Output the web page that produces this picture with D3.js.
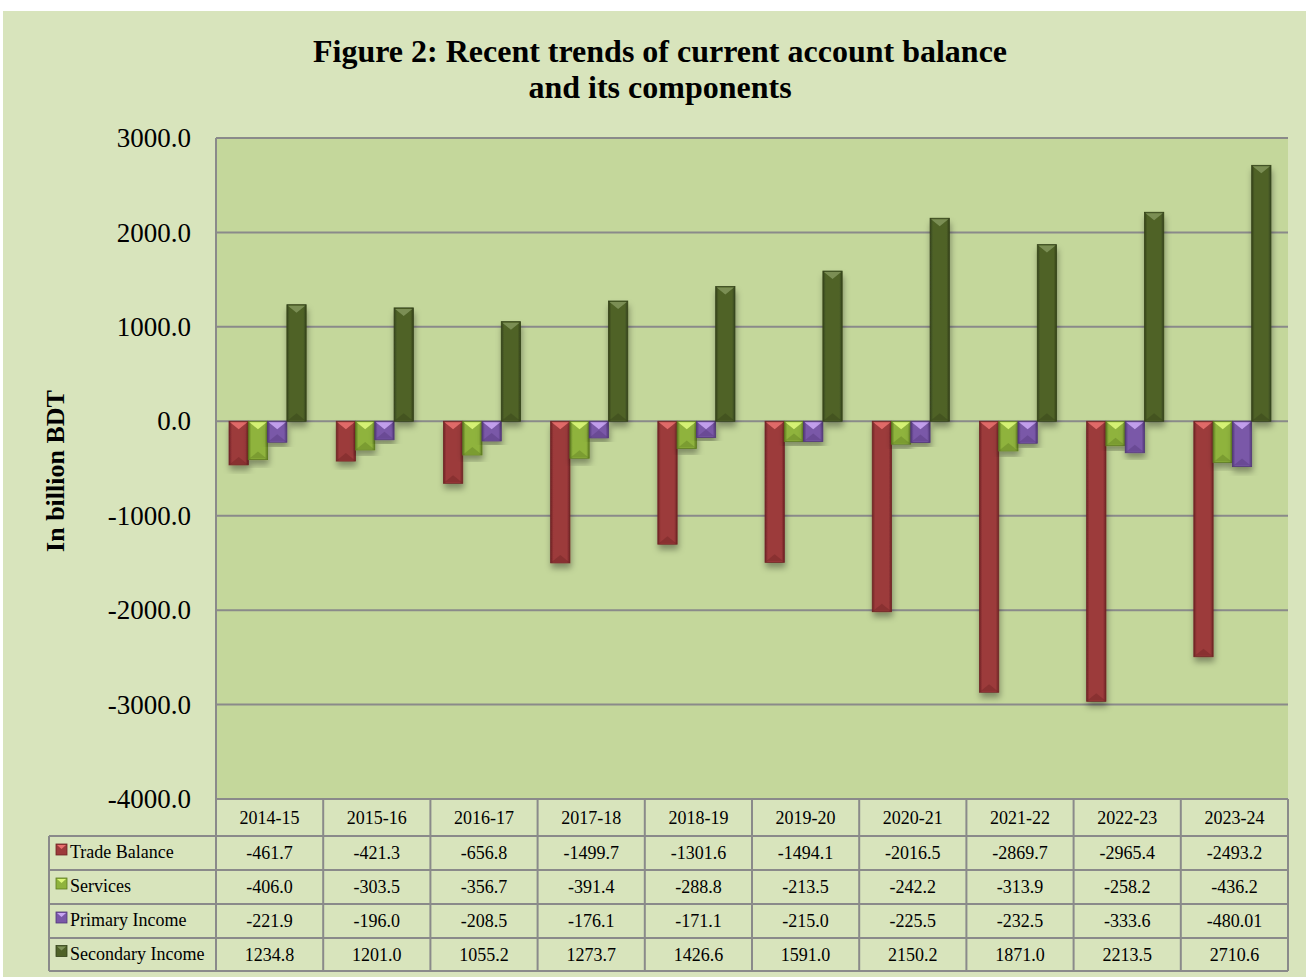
<!DOCTYPE html>
<html>
<head>
<meta charset="utf-8">
<script src="https://cdn.jsdelivr.net/npm/d3@7"></script>
<style>
  html, body { margin: 0; padding: 0; background: #ffffff; }
  svg { display: block; }
  text { font-family: "Liberation Serif", "Times New Roman", serif; }
</style>
</head>
<body>
<svg id="chart" width="1306" height="977"></svg>
<script>
// ---- data ----
const categories = ["2014-15","2015-16","2016-17","2017-18","2018-19","2019-20","2020-21","2021-22","2022-23","2023-24"];
const seriesNames = ["Trade Balance","Services","Primary Income","Secondary Income"];
const tradeBalance    = [-461.7, -421.3, -656.8, -1499.7, -1301.6, -1494.1, -2016.5, -2869.7, -2965.4, -2493.2];
const services        = [-406.0, -303.5, -356.7, -391.4, -288.8, -213.5, -242.2, -313.9, -258.2, -436.2];
const primaryIncome   = [-221.9, -196.0, -208.5, -176.1, -171.1, -215.0, -225.5, -232.5, -333.6, -480.01];
const secondaryIncome = [1234.8, 1201.0, 1055.2, 1273.7, 1426.6, 1591.0, 2150.2, 1871.0, 2213.5, 2710.6];
const tableLabels = [
  ["-461.7","-421.3","-656.8","-1499.7","-1301.6","-1494.1","-2016.5","-2869.7","-2965.4","-2493.2"],
  ["-406.0","-303.5","-356.7","-391.4","-288.8","-213.5","-242.2","-313.9","-258.2","-436.2"],
  ["-221.9","-196.0","-208.5","-176.1","-171.1","-215.0","-225.5","-232.5","-333.6","-480.01"],
  ["1234.8","1201.0","1055.2","1273.7","1426.6","1591.0","2150.2","1871.0","2213.5","2710.6"]
];
const yTicks = [-4000,-3000,-2000,-1000,0,1000,2000,3000];
const titleLines = ["Figure 2: Recent trends of current account balance","and its components"];
const yAxisTitle = "In billion BDT";

const seriesValues = [tradeBalance, services, primaryIncome, secondaryIncome];
// colours: body, light (top bevel), dark (edge)
const palette = [
  {body:"#9c3a3b", light:"#e8706e", dark:"#6e2324"},
  {body:"#8fb33d", light:"#dcf77a", dark:"#5d7a20"},
  {body:"#7a58a8", light:"#c9a6f2", dark:"#523778"},
  {body:"#4f6228", light:"#80945a", dark:"#34421a"}
];

// ---- layout ----
const W = 1306, H = 977;
const plot = {left: 216, right: 1288, top: 138, bottom: 799};
const tableLeft = 49;
const rowH = [37, 34, 34, 34, 33];

const svg = d3.select("#chart");
const defs = svg.append("defs");

svg.append("rect").attr("x",3).attr("y",11).attr("width",W-3).attr("height",H-11).attr("fill","#d8e4bc");
svg.append("rect").attr("x",plot.left).attr("y",plot.top).attr("width",plot.right-plot.left).attr("height",plot.bottom-plot.top).attr("fill","#c4d79b");

const y = d3.scaleLinear().domain([-4000,3000]).range([plot.bottom, plot.top]);
const x0 = d3.scaleBand().domain(categories).range([plot.left, plot.right]).paddingInner(0).paddingOuter(0);
const x1 = d3.scaleBand().domain(seriesNames).range([-2, x0.bandwidth()-2]).paddingInner(0).paddingOuter(0.78);

svg.append("g").selectAll("line").data(yTicks).join("line")
  .attr("x1", plot.left).attr("x2", plot.right)
  .attr("y1", d => y(d)).attr("y2", d => y(d))
  .attr("stroke", "#8a8a8a").attr("stroke-width", 2);

const fmt = d => d3.format(".1f")(d).replace("\u2212", "-");
const yAxis = d3.axisLeft(y).tickValues(yTicks).tickFormat(fmt).tickSize(0).tickPadding(25);
const gY = svg.append("g").attr("transform", `translate(${plot.left},0)`).call(yAxis);
gY.select(".domain").remove();
gY.selectAll("text").attr("font-family","Liberation Serif, serif").attr("font-size", 27).attr("fill","#000");

svg.append("line").attr("x1",plot.left).attr("x2",plot.left).attr("y1",plot.top).attr("y2",plot.bottom)
  .attr("stroke","#8a8a8a").attr("stroke-width",2);

const f = defs.append("filter").attr("id","shadow").attr("x","-50%").attr("y","-20%").attr("width","200%").attr("height","140%");
f.append("feDropShadow").attr("dx",1).attr("dy",5).attr("stdDeviation",3).attr("flood-color","#000").attr("flood-opacity",0.35);

palette.forEach((p,i) => {
  const g = defs.append("linearGradient").attr("id","grad"+i).attr("x1","0").attr("x2","1").attr("y1","0").attr("y2","0");
  g.append("stop").attr("offset","0").attr("stop-color",p.dark);
  g.append("stop").attr("offset","0.15").attr("stop-color",p.body);
  g.append("stop").attr("offset","0.85").attr("stop-color",p.body);
  g.append("stop").attr("offset","1").attr("stop-color",p.dark);
});

const bars = svg.append("g");
seriesValues.forEach((vals, si) => {
  const p = palette[si];
  vals.forEach((v, ci) => {
    const bx = x0(categories[ci]) + x1(seriesNames[si]);
    const bw = x1.bandwidth();
    const yTop = y(Math.max(0, v)), yBot = y(Math.min(0, v));
    const bh = yBot - yTop;
    const g = bars.append("g");
    g.append("rect").attr("x",bx).attr("y",yTop).attr("width",bw).attr("height",bh)
      .attr("fill","url(#grad"+si+")").attr("stroke",p.dark).attr("stroke-width",0.8).attr("filter","url(#shadow)");
    const th = Math.min(8, bh/2);
    g.append("path").attr("d", `M${bx+1},${yTop+1} L${bx+bw-1},${yTop+1} L${bx+bw/2},${yTop+th} Z`)
      .attr("fill", p.light).attr("opacity", 0.9);
    g.append("path").attr("d", `M${bx+1},${yBot-1} L${bx+bw-1},${yBot-1} L${bx+bw/2},${yBot-th} Z`)
      .attr("fill", p.dark).attr("opacity", 0.4);
  });
});

const title = svg.append("text").attr("text-anchor","middle").attr("font-weight","bold").attr("font-size",32).attr("fill","#000");
title.selectAll("tspan").data(titleLines).join("tspan")
  .attr("x", 660).attr("y", (d,i) => 62 + i*36).text(d => d);

svg.append("text").attr("transform","translate(64,471) rotate(-90)").attr("text-anchor","middle")
  .attr("font-weight","bold").attr("font-size",26).attr("fill","#000").text(yAxisTitle);

const tbl = svg.append("g");
const rowTops = [plot.bottom];
rowH.forEach(h => rowTops.push(rowTops[rowTops.length-1] + h));
const border = "#8a8a8a";
tbl.append("line").attr("x1",plot.left).attr("x2",plot.right).attr("y1",rowTops[0]).attr("y2",rowTops[0]).attr("stroke",border).attr("stroke-width",2);
for (let r = 1; r < rowTops.length; r++) {
  tbl.append("line").attr("x1",tableLeft).attr("x2",plot.right).attr("y1",rowTops[r]).attr("y2",rowTops[r]).attr("stroke",border).attr("stroke-width",2);
}
categories.forEach((c,i) => {
  tbl.append("line").attr("x1",x0(c)).attr("x2",x0(c)).attr("y1",rowTops[0]).attr("y2",rowTops[5]).attr("stroke",border).attr("stroke-width",2);
});
tbl.append("line").attr("x1",plot.right).attr("x2",plot.right).attr("y1",rowTops[0]).attr("y2",rowTops[5]).attr("stroke",border).attr("stroke-width",2);
tbl.append("line").attr("x1",tableLeft).attr("x2",tableLeft).attr("y1",rowTops[1]).attr("y2",rowTops[5]).attr("stroke",border).attr("stroke-width",2);

tbl.selectAll("text.hdr").data(categories).join("text").attr("class","hdr")
  .attr("x", d => x0(d) + x0.bandwidth()/2).attr("y", (rowTops[0]+rowTops[1])/2 + 6)
  .attr("text-anchor","middle").attr("font-size",18).attr("fill","#000").text(d => d);

seriesNames.forEach((name, si) => {
  const cy = (rowTops[si+1] + rowTops[si+2]) / 2;
  const p = palette[si];
  const kx = 56, ks = 11, ky = cy - 9;
  tbl.append("rect").attr("x",kx).attr("y",ky).attr("width",ks).attr("height",ks).attr("fill",p.body).attr("stroke",p.dark).attr("stroke-width",0.8);
  tbl.append("path").attr("d",`M${kx+1},${ky+1} L${kx+ks-1},${ky+1} L${kx+ks/2},${ky+5} Z`).attr("fill",p.light);
  tbl.append("text").attr("x",70).attr("y",cy+5).attr("font-size",18).attr("fill","#000").text(name);
  tableLabels[si].forEach((lab, ci) => {
    tbl.append("text").attr("x", x0(categories[ci]) + x0.bandwidth()/2).attr("y", cy + 6)
      .attr("text-anchor","middle").attr("font-size",18).attr("fill","#000").text(lab);
  });
});
</script>
</body>
</html>
